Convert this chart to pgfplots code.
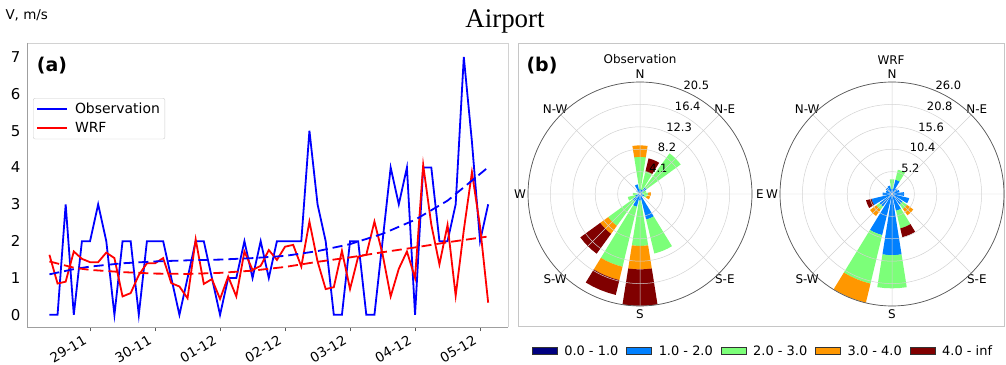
\documentclass[border=0pt]{standalone}
\usepackage{fontspec}
\setmainfont{DejaVu Sans}
\newfontfamily\serif{Liberation Serif}
\usepackage{pgfplots}
\usepackage{pgfplotstable}
\pgfplotsset{compat=1.18}
\usepgfplotslibrary{polar}

\definecolor{cA}{RGB}{0,0,128}
\definecolor{cB}{RGB}{0,128,255}
\definecolor{cC}{RGB}{124,255,121}
\definecolor{cD}{RGB}{255,151,0}
\definecolor{cE}{RGB}{128,0,0}

\newcommand{\fs}[1]{\fontsize{#1}{#1}\selectfont}

% wind-rose sector: colour, math angle (deg), inner radius, outer radius
\newcommand{\sect}[4]{%
  \pgfmathsetmacro\aA{#2-9}%
  \pgfmathsetmacro\aB{#2-4.5}%
  \pgfmathsetmacro\aC{#2+4.5}%
  \pgfmathsetmacro\aD{#2+9}%
  \edef\temp{\noexpand\addplot[fill=#1, draw=none, forget plot] coordinates {(\aA,#3) (\aA,#4) (\aB,#4) (#2,#4) (\aC,#4) (\aD,#4) (\aD,#3) (\aC,#3) (#2,#3) (\aB,#3)};}%
  \temp}

\pgfplotstableread{
x obs wrf
-0.625 0 1.63
-0.5 0 0.85
-0.375 3 0.9
-0.25 0 1.72
-0.125 2 1.52
0 2 1.43
0.125 3 1.43
0.25 2 1.69
0.375 0 1.54
0.5 2 0.5
0.625 2 0.59
0.75 0 1.08
0.875 2 1.4
1 2 1.4
1.125 2 1.54
1.25 1 0.86
1.375 0 0.77
1.5 1 0.45
1.625 2 2.05
1.75 2 0.84
1.875 1 0.97
2 0 0.43
2.125 1 1.04
2.25 1 0.5
2.375 2 1.72
2.5 1 1.22
2.625 2 1.33
2.75 1 1.76
2.875 2 1.49
3 2 1.85
3.125 2 1.9
3.25 2 1.31
3.375 5 2.53
3.5 3 1.45
3.625 2 0.7
3.75 0 0.75
3.875 0 1.74
4 2 0.7
4.125 2 1.58
4.25 0 1.63
4.375 0 2.53
4.5 2 1.65
4.625 4 0.5
4.75 3 1.25
4.875 4 1.72
5 0 1.0
5.125 4 4.07
5.25 4 2.45
5.375 2 1.37
5.5 2 2.44
5.625 3 0.52
5.75 7 2.3
5.875 4.7 3.87
6 2 2.4
6.125 3 0.33
}\tsdata

\begin{document}
\begin{tikzpicture}
\useasboundingbox (0bp,0bp) rectangle (1006bp,365bp);

\node[font=\serif\fs{27}] at (505bp,344bp) {Airport};
\node[anchor=west, font=\fs{13.5}] at (2bp,350bp) {V, m/s};
\draw[gray!45, line width=0.8bp] (518bp,39bp) rectangle (1004bp,322bp);

% ---------------- panel (a)
\begin{axis}[
  at={(27bp,38bp)}, anchor=south west,
  scale only axis, width=481bp, height=284bp,
  xmin=-0.97, xmax=6.43, ymin=-0.33, ymax=7.38,
  xtick={0,...,6},
  xticklabels={29-11,30-11,01-12,02-12,03-12,04-12,05-12},
  ytick={0,...,7},
  xtick pos=bottom, ytick pos=left,
  axis line style={draw=none},
  tick align=outside,
  xtick style={gray!70!black, line width=0.6bp},
  major tick length=4bp,
  ytick style={draw=none},
  xticklabel style={rotate=30, anchor=north east, font=\fs{13.5}, xshift=-5bp, yshift=4bp},
  yticklabel style={font=\fs{15}, xshift=1bp},
  /pgf/number format/assume math mode=true,
  clip mode=individual,
  legend style={at={(0.0125,0.806)}, anchor=north west, draw=gray!40,
    rounded corners=2bp, font=\fs{14}, inner xsep=3bp, inner ysep=3bp, row sep=3bp,
    /tikz/every odd column/.append style={column sep=5bp}},
  legend cell align=left,
  legend image code/.code={\draw[#1] (0bp,0bp) -- (30bp,0bp);},
]
\draw[gray!35, line width=0.8bp] (rel axis cs:0,1) -- (rel axis cs:1,1) -- (rel axis cs:1,0);
\draw[gray!75, line width=0.8bp] (rel axis cs:0,1) -- (rel axis cs:0,0) -- (rel axis cs:1,0);

\addplot[blue, line width=1.8bp] table[x=x, y=obs] {\tsdata};
\addlegendentry{Observation}
\addplot[red, line width=1.8bp] table[x=x, y=wrf] {\tsdata};
\addlegendentry{WRF}

\addplot[blue, line width=1.8bp, dash pattern=on 10bp off 5bp, forget plot] coordinates {
(-0.625,1.1) (-0.25,1.24) (0,1.31) (0.5,1.40) (1,1.45) (1.5,1.48) (2,1.5) (2.5,1.54)
(3,1.6) (3.5,1.73) (4,1.92) (4.5,2.2) (5,2.58) (5.5,3.1) (6.1,3.97)};
\addplot[red, line width=1.8bp, dash pattern=on 10bp off 5bp, forget plot] coordinates {
(-0.625,1.45) (-0.25,1.28) (0,1.22) (0.5,1.16) (1,1.12) (1.5,1.11) (2,1.14) (2.5,1.2)
(3,1.3) (3.5,1.44) (4,1.56) (4.5,1.7) (5,1.83) (5.5,1.97) (6.1,2.12)};
\end{axis}

\node[font=\bfseries\fs{19}] at (52bp,299bp) {(a)};
\node[font=\bfseries\fs{19}] at (542bp,299bp) {(b)};

% ---------------- Observation rose
\begin{polaraxis}[
  at={(640bp,171bp)}, anchor=center,
  scale only axis, width=224bp, height=224bp,
  xmin=0, xmax=360, ymin=0, ymax=20.5,
  xtick={0,45,...,315}, xticklabels={},
  ytick={4.1,8.2,12.3,16.4,20.5}, yticklabels={},
  grid=major, grid style={gray!35, line width=0.5bp},
  axis line style={black!65, line width=0.7bp},
  y axis line style={draw=none},
  major tick length=0pt,
  axis on top, clip=false,
]
% N
\sect{cB}{90}{0}{0.9} \sect{cC}{90}{0.9}{6.8} \sect{cD}{90}{6.8}{8.9}
% NNE
\sect{cB}{67.5}{0}{0.8} \sect{cC}{67.5}{0.8}{4.3} \sect{cE}{67.5}{4.3}{6.7}
% NE
\sect{cB}{45}{0}{1.5} \sect{cC}{45}{1.5}{9.2}
% ENE
\sect{cB}{22.5}{0}{0.5} \sect{cC}{22.5}{0.5}{1.2}
% E
\sect{cC}{0}{0}{1.5} \sect{cD}{0}{1.5}{2.0}
% ESE
\sect{cB}{-22.5}{0}{0.8} \sect{cC}{-22.5}{0.8}{1.3} \sect{cD}{-22.5}{1.3}{1.9}
% SE
\sect{cB}{-45}{0}{0.6}
% SSE
\sect{cB}{-67.5}{0}{4.8} \sect{cC}{-67.5}{4.8}{11.2}
% S
\sect{cB}{-90}{0}{1.2} \sect{cC}{-90}{1.2}{9.5} \sect{cD}{-90}{9.5}{13.8} \sect{cE}{-90}{13.8}{20.5}
% SSW
\sect{cB}{-112.5}{0}{2.4} \sect{cC}{-112.5}{2.4}{13.7} \sect{cD}{-112.5}{13.7}{16.2} \sect{cE}{-112.5}{16.2}{19.0}
% SW
\sect{cB}{-135}{0}{1.6} \sect{cC}{-135}{1.6}{7.2} \sect{cD}{-135}{7.2}{9.0} \sect{cE}{-135}{9.0}{13.5}
% WSW
\sect{cB}{-157.5}{0}{0.9} \sect{cC}{-157.5}{0.9}{2.3}
% W
\sect{cB}{180}{0}{0.4} \sect{cC}{180}{0.4}{1.3}
% NW
\sect{cB}{135}{0}{0.8}
% NNW
\sect{cB}{112.5}{0}{1.8}

\pgfplotsinvokeforeach{4.1,8.2,12.3,16.4,20.5}{
  \node[anchor=south west, inner sep=0.5bp, font=\fs{11.5}] at (axis cs:67.5,#1) {#1};
}
\node[font=\fs{12}] at (axis cs:90,21.96) {N};
\node[font=\fs{12}] at (axis cs:45,21.96) {N-E};
\node[font=\fs{12}] at (axis cs:0,21.96) {E};
\node[font=\fs{12}] at (axis cs:315,21.96) {S-E};
\node[font=\fs{12}] at (axis cs:270,21.96) {S};
\node[font=\fs{12}] at (axis cs:225,21.96) {S-W};
\node[font=\fs{12}] at (axis cs:180,21.96) {W};
\node[font=\fs{12}] at (axis cs:135,21.96) {N-W};
\end{polaraxis}
\node[font=\fs{12}] at (640bp,306bp) {Observation};

% ---------------- WRF rose
\begin{polaraxis}[
  at={(892bp,171bp)}, anchor=center,
  scale only axis, width=224bp, height=224bp,
  xmin=0, xmax=360, ymin=0, ymax=26,
  xtick={0,45,...,315}, xticklabels={},
  ytick={5.2,10.4,15.6,20.8,26.0}, yticklabels={},
  grid=major, grid style={gray!35, line width=0.5bp},
  axis line style={black!65, line width=0.7bp},
  y axis line style={draw=none},
  major tick length=0pt,
  axis on top, clip=false,
  legend columns=5,
  legend style={at={(-0.076,-0.201)}, anchor=center, draw=none, fill=none,
    font=\fs{13},
    /tikz/every odd column/.append style={column sep=5bp},
    /tikz/every even column/.append style={column sep=6bp}},
  legend image code/.code={\draw[#1, draw=black!80, line width=0.4bp] (0bp,-3.5bp) rectangle (25bp,3.5bp);},
]
\addlegendimage{fill=cA}\addlegendentry{0.0 - 1.0}
\addlegendimage{fill=cB}\addlegendentry{1.0 - 2.0}
\addlegendimage{fill=cC}\addlegendentry{2.0 - 3.0}
\addlegendimage{fill=cD}\addlegendentry{3.0 - 4.0}
\addlegendimage{fill=cE}\addlegendentry{4.0 - inf}
% N
\sect{cB}{90}{0}{1.2} \sect{cC}{90}{1.2}{3.4}
% NNE
\sect{cB}{67.5}{0}{3.4} \sect{cC}{67.5}{3.4}{5.8}
% NE
\sect{cB}{45}{0}{1.6}
% ENE
\sect{cB}{22.5}{0}{1.8}
% E
\sect{cB}{0}{0}{2.8}
% ESE
\sect{cB}{-22.5}{0}{4.1}
% SE
\sect{cB}{-45}{0}{3.0} \sect{cC}{-45}{3.0}{4.3} \sect{cD}{-45}{4.3}{6.1}
% SSE
\sect{cB}{-67.5}{0}{4.0} \sect{cC}{-67.5}{4.0}{8.2} \sect{cE}{-67.5}{8.2}{10.3}
% S
\sect{cB}{-90}{0}{14.2} \sect{cC}{-90}{14.2}{21.9}
% SSW
\sect{cB}{-112.5}{0}{9.8} \sect{cC}{-112.5}{9.8}{21.4} \sect{cD}{-112.5}{21.4}{26}
% SW
\sect{cB}{-135}{0}{3.6} \sect{cC}{-135}{3.6}{4.5} \sect{cD}{-135}{4.5}{6.3}
% WSW
\sect{cB}{-157.5}{0}{4.9} \sect{cE}{-157.5}{4.9}{6.2}
% W
\sect{cB}{180}{0}{2.2}
% WNW
\sect{cB}{157.5}{0}{1.5}
% NW
\sect{cB}{135}{0}{1.8}
% NNW
\sect{cB}{112.5}{0}{2.0}

\pgfplotsinvokeforeach{5.2,10.4,15.6,20.8,26.0}{
  \node[anchor=south west, inner sep=0.5bp, font=\fs{11.5}] at (axis cs:67.5,#1) {#1};
}
\node[font=\fs{12}] at (axis cs:90,27.86) {N};
\node[font=\fs{12}] at (axis cs:45,27.86) {N-E};
\node[font=\fs{12}] at (axis cs:315,27.86) {S-E};
\node[font=\fs{12}] at (axis cs:270,27.86) {S};
\node[font=\fs{12}] at (axis cs:225,27.86) {S-W};
\node[font=\fs{12}] at (axis cs:180,27.86) {W};
\node[font=\fs{12}] at (axis cs:135,27.86) {N-W};
\end{polaraxis}
\node[font=\fs{12}] at (891bp,305bp) {WRF};
\end{tikzpicture}
\end{document}
